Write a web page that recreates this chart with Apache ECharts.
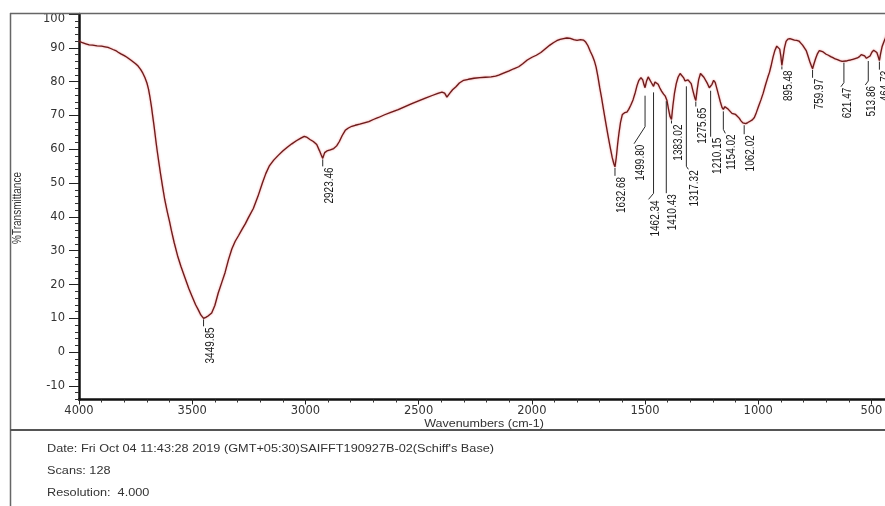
<!DOCTYPE html>
<html>
<head>
<meta charset="utf-8">
<script src="https://cdn.jsdelivr.net/npm/echarts@6/dist/echarts.min.js"></script>
<style>
  html, body { margin: 0; padding: 0; background: #ffffff; }
  #chart { width: 885px; height: 506px; }
</style>
</head>
<body>
<div id="chart"></div>
<script>
// FT-IR spectrum: wavenumber (cm-1) and %Transmittance
const wavenumbers = [
  4000, 3985, 3970, 3955, 3940, 3920, 3900, 3885, 3872, 3860, 3850, 3838, 3827, 3815, 3800, 3790,
  3783, 3770, 3760, 3750, 3739, 3728, 3718, 3709, 3700, 3693, 3687, 3680, 3674, 3668, 3661, 3655,
  3647, 3640, 3630, 3621, 3610, 3600, 3592, 3580, 3565, 3550, 3532, 3515, 3500, 3485, 3473, 3462,
  3449.85, 3440, 3430, 3414, 3400, 3385, 3370, 3355, 3340, 3325, 3310, 3295, 3280, 3265, 3250, 3230,
  3210, 3190, 3175, 3160, 3140, 3120, 3100, 3080, 3060, 3040, 3020, 3005, 2995, 2980, 2965, 2950,
  2938, 2930, 2923.46, 2915, 2905, 2890, 2875, 2862, 2850, 2838, 2824, 2810, 2795, 2780, 2760, 2740,
  2720, 2700, 2677, 2650, 2620, 2590, 2560, 2530, 2500, 2470, 2440, 2415, 2397, 2385, 2375, 2362,
  2350, 2335, 2320, 2301, 2280, 2255, 2230, 2205, 2180, 2160, 2146, 2125, 2100, 2080, 2058, 2040,
  2020, 1999, 1980, 1960, 1940, 1920, 1905, 1890, 1875, 1860, 1845, 1830, 1815, 1800, 1785, 1772,
  1762, 1752, 1742, 1732, 1724, 1716, 1708, 1700, 1692, 1684, 1675, 1665, 1655, 1645, 1638, 1632.68,
  1627, 1621, 1615, 1608, 1600, 1590, 1580, 1572, 1563, 1553, 1543, 1535, 1527, 1518, 1510, 1505,
  1499.80, 1493, 1486, 1479, 1471, 1462.34, 1456, 1449, 1442, 1435, 1427, 1418, 1410.43, 1403, 1396, 1390,
  1383.02, 1377, 1370, 1362, 1354, 1345, 1338, 1330, 1323, 1317.32, 1310, 1303, 1296, 1288, 1281, 1275.65,
  1270, 1263, 1255, 1247, 1240, 1232, 1224, 1216, 1210.15, 1204, 1197, 1190, 1182, 1175, 1168, 1160,
  1154.02, 1147, 1140, 1132, 1124, 1116, 1108, 1100, 1092, 1084, 1076, 1068, 1062.02, 1055, 1046, 1036,
  1026, 1017, 1008, 998, 988, 978, 968, 958, 950, 942, 934, 926, 918, 911, 905, 900,
  895.48, 890, 884, 877, 869, 860, 850, 840, 830, 820, 812, 804, 796, 788, 780, 772,
  765, 759.97, 754, 746, 738, 730, 723, 716, 708, 700, 690, 680, 670, 660, 650, 640,
  630, 621.47, 612, 602, 592, 582, 572, 562, 553, 545, 538, 530, 522, 513.86, 506, 498,
  490, 482, 476, 470, 464.73, 459, 453, 446, 440, 432, 425
];
const transmittance = [
  92.0, 91.5, 91.2, 90.9, 90.8, 90.6, 90.5, 90.3, 90.1, 89.8, 89.5, 89.2, 88.7, 88.2, 87.7, 87.3,
  86.9, 86.3, 85.8, 85.3, 84.6, 83.6, 82.5, 81.2, 79.6, 77.8, 75.6, 72.6, 69.6, 66.6, 62.8, 59.7,
  56.0, 52.8, 48.6, 45.0, 41.5, 38.6, 36.0, 32.5, 28.6, 25.4, 22.0, 18.8, 16.4, 14.0, 12.5, 11.0,
  10.0, 10.3, 10.7, 11.6, 13.8, 17.5, 20.5, 23.5, 27.3, 30.5, 32.8, 34.5, 36.3, 38.0, 40.0, 42.5,
  46.0, 50.0, 52.8, 55.0, 56.8, 58.2, 59.5, 60.6, 61.6, 62.5, 63.3, 63.8, 63.6, 62.9, 62.3, 61.4,
  59.6, 58.3, 57.3, 59.0, 59.5, 59.8, 60.2, 61.0, 62.3, 64.0, 65.6, 66.3, 66.8, 67.1, 67.4, 67.8,
  68.2, 68.8, 69.4, 70.2, 71.0, 71.7, 72.6, 73.5, 74.3, 75.1, 75.9, 76.5, 76.9, 76.6, 75.4, 76.6,
  77.6, 78.5, 79.6, 80.4, 80.7, 81.0, 81.2, 81.3, 81.4, 81.6, 81.9, 82.5, 83.2, 83.8, 84.4, 85.3,
  86.4, 87.2, 87.8, 88.6, 89.7, 90.8, 91.5, 92.1, 92.5, 92.7, 92.9, 92.8, 92.4, 92.2, 92.4, 92.3,
  91.7, 90.6, 89.0, 87.6, 86.2, 84.3, 81.5, 78.2, 75.3, 72.0, 68.5, 64.6, 61.0, 57.6, 55.8, 54.8,
  57.5, 61.5, 64.8, 68.0, 70.3, 70.8, 71.0, 71.8, 73.0, 74.6, 76.8, 78.9, 80.4, 81.2, 80.5, 79.2,
  78.2, 80.2, 81.4, 80.9, 79.6, 78.6, 79.9, 80.1, 79.2, 78.2, 77.2, 76.3, 75.7, 74.4, 71.8, 69.8,
  68.8, 72.8, 76.5, 79.4, 81.3, 82.4, 82.1, 81.2, 80.2, 79.8, 80.5, 80.6, 79.4, 77.2, 75.4, 74.4,
  77.5, 80.6, 82.4, 82.2, 81.3, 80.8, 79.4, 78.2, 77.9, 79.2, 80.4, 79.8, 77.8, 76.0, 74.2, 72.4,
  71.8, 72.6, 72.4, 71.8, 71.2, 70.6, 70.4, 70.3, 69.9, 69.2, 68.4, 67.8, 67.4, 67.6, 67.9, 68.3,
  68.7, 69.4, 70.9, 72.8, 74.6, 76.6, 79.0, 81.2, 82.8, 85.0, 87.4, 89.3, 90.5, 90.8, 89.6, 87.5,
  84.8, 87.3, 90.0, 91.9, 92.6, 92.7, 92.5, 92.3, 92.2, 92.0, 91.4, 90.8, 90.0, 89.2, 87.6, 85.9,
  84.6, 83.8, 85.2, 86.9, 88.3, 89.2, 89.4, 88.9, 88.4, 88.1, 87.8, 87.4, 87.1, 86.7, 86.5, 86.2,
  86.0, 85.9, 86.1, 86.3, 86.4, 86.6, 86.8, 87.0, 87.4, 88.0, 88.1, 87.6, 86.9, 86.4, 87.6, 88.7,
  89.3, 89.1, 88.6, 87.4, 86.2, 88.4, 90.3, 91.6, 92.6, 94.0, 95.0
];

// Picked peaks (labelled wavenumbers)
const peakWavenumbers = [
  3449.85, 2923.46, 1632.68, 1499.80, 1462.34, 1410.43, 1383.02, 1317.32, 1275.65,
  1210.15, 1154.02, 1062.02, 895.48, 759.97, 621.47, 513.86, 464.73
];

// Axis tick values
const yTickValues = [-10, 0, 10, 20, 30, 40, 50, 60, 70, 80, 90, 100];
const xTickValues = [4000, 3500, 3000, 2500, 2000, 1500, 1000, 500];
const xMinorTickValues = [];
for (let v = 500; v <= 4000; v += 100) xMinorTickValues.push(v);

// Info lines under the plot
const infoLines = [
  "Date: Fri Oct 04 11:43:28 2019 (GMT+05:30)SAIFFT190927B-02(Schiff's Base)",
  'Scans: 128',
  'Resolution:  4.000'
];

// Peak transmittance is taken from the spectrum itself
const peakTransmittance = peakWavenumbers.map(w => transmittance[wavenumbers.indexOf(w)]);

// Leader line shapes for the peak labels, pixel offsets from the peak point
const leaderPaths = [
  [[0, 1], [0, 8]],
  [[0, 1], [0, 8]],
  [[0, 1], [0, 9]],
  [[0, 8], [0, 39], [-11, 56]],
  [[0, 6], [0, 107], [-5, 113]],
  [[1, 5], [1, 97]],
  [[0, 1], [0, 4]],
  [[0, 4], [0, 84], [2, 87]],
  [[0, 1], [0, 6]],
  [[0, 2], [0, 48]],
  [[0, 2], [0, 20], [2, 24]],
  [[0, 1], [0, 10]],
  [[0, 1], [0, 4]],
  [[0, 1], [0, 9]],
  [[0, 1], [0, 21], [-3, 25]],
  [[0, 1], [0, 21], [-3, 25]],
  [[0, 1], [0, 9]]
];

const LABEL_FONT = '10px "Liberation Sans", Arial, sans-serif';
const AXIS_FONT = 'DejaVu Sans';
const AXIS_FONT_SIZE = 11.5;
const X_MIN = 440;
const X_MAX = 4000;

const chart = echarts.init(document.getElementById('chart'), null, { renderer: 'canvas' });

chart.setOption({
  animation: false,
  backgroundColor: '#ffffff',
  grid: { left: 79, top: 14, right: 0, bottom: 106.5, containLabel: false, outerBoundsMode: 'none' },
  xAxis: [
    {
      type: 'value',
      inverse: true,
      min: X_MIN,
      max: X_MAX,
      position: 'bottom',
      axisLine: { show: true, onZero: false, lineStyle: { color: '#111', width: 2.5 } },
      axisTick: { show: true, inside: false, length: 3, customValues: xMinorTickValues,
                  lineStyle: { color: '#333', width: 1 } },
      axisLabel: { show: false },
      splitLine: { show: false }
    },
    {
      type: 'value',
      inverse: true,
      min: X_MIN,
      max: X_MAX,
      position: 'bottom',
      axisLine: { show: false, onZero: false },
      axisTick: { show: true, inside: false, length: 5, customValues: xTickValues,
                  lineStyle: { color: '#222', width: 1 } },
      axisLabel: {
        show: true, customValues: xTickValues, margin: 6, color: '#333',
        fontFamily: AXIS_FONT, fontSize: AXIS_FONT_SIZE, formatter: v => String(v)
      },
      splitLine: { show: false }
    }
  ],
  yAxis: [
    {
      type: 'value',
      min: -14,
      max: 100,
      interval: 2,
      position: 'left',
      axisLine: { show: true, onZero: false, lineStyle: { color: '#111', width: 2.5 } },
      axisTick: { show: true, inside: false, length: 4, lineStyle: { color: '#333', width: 1 } },
      axisLabel: { show: false },
      splitLine: { show: false }
    },
    {
      type: 'value',
      min: -14,
      max: 100,
      position: 'left',
      axisLine: { show: false, onZero: false },
      axisTick: { show: true, inside: false, length: 10, customValues: yTickValues,
                  lineStyle: { color: '#222', width: 1 } },
      axisLabel: {
        show: true, customValues: yTickValues, margin: 14, color: '#333',
        fontFamily: AXIS_FONT, fontSize: AXIS_FONT_SIZE,
        formatter: v => (v === 100 ? '{top|100}' : String(v)),
        rich: { top: { fontFamily: AXIS_FONT, fontSize: AXIS_FONT_SIZE, color: '#333', padding: [10, 0, 0, 0] } }
      },
      splitLine: { show: false }
    }
  ],
  graphic: [
    // outer frame and separator
    { type: 'line', shape: { x1: 10, y1: 13.5, x2: 885, y2: 13.5 }, style: { stroke: '#666', lineWidth: 1.5 }, z: 100 },
    { type: 'line', shape: { x1: 10.5, y1: 13, x2: 10.5, y2: 506 }, style: { stroke: '#666', lineWidth: 1.5 }, z: 100 },
    { type: 'line', shape: { x1: 10, y1: 430, x2: 885, y2: 430 }, style: { stroke: '#555', lineWidth: 1.8 }, z: 100 },
    // axis titles
    { type: 'text', x: 484, y: 424, scaleX: 1.25,
      style: { text: 'Wavenumbers (cm-1)', font: LABEL_FONT, fill: '#333', align: 'center', verticalAlign: 'middle' } },
    { type: 'text', x: 18, y: 208, rotation: Math.PI / 2, scaleY: 1.27,
      style: { text: '%Transmittance', font: LABEL_FONT, fill: '#333', align: 'center', verticalAlign: 'middle' } },
    // info lines
    ...infoLines.map((t, i) => ({
      type: 'text', x: 47, y: 449 + i * 22, scaleX: 1.27,
      style: { text: t, font: LABEL_FONT, fill: '#333', align: 'left', verticalAlign: 'middle' }
    }))
  ],
  series: [
    {
      type: 'line',
      xAxisIndex: 0,
      yAxisIndex: 0,
      data: wavenumbers.map((w, i) => [w, transmittance[i]]),
      showSymbol: false,
      smooth: false,
      silent: true,
      lineStyle: {
        color: '#6a1b1b', width: 1.3,
        shadowColor: 'rgba(225, 70, 70, 0.7)', shadowBlur: 2
      },
      z: 3
    },
    {
      type: 'custom',
      xAxisIndex: 0,
      yAxisIndex: 0,
      silent: true,
      clip: false,
      data: peakWavenumbers.map((w, i) => [w, peakTransmittance[i]]),
      renderItem: (params, api) => {
        const i = params.dataIndex;
        const p = api.coord([api.value(0), api.value(1)]);
        const pts = leaderPaths[i].map(d => [p[0] + d[0], p[1] + d[1]]);
        const end = pts[pts.length - 1];
        return {
          type: 'group',
          children: [
            { type: 'polyline', shape: { points: pts },
              style: { stroke: '#2a2a2a', lineWidth: 1, fill: null } },
            { type: 'text', x: end[0], y: end[1] + 1, rotation: Math.PI / 2, scaleY: 1.3,
              style: { text: peakWavenumbers[i].toFixed(2), font: LABEL_FONT, fill: '#1a1a1a',
                       align: 'right', verticalAlign: 'top' } }
          ]
        };
      },
      z: 4
    }
  ]
});
</script>
</body>
</html>
